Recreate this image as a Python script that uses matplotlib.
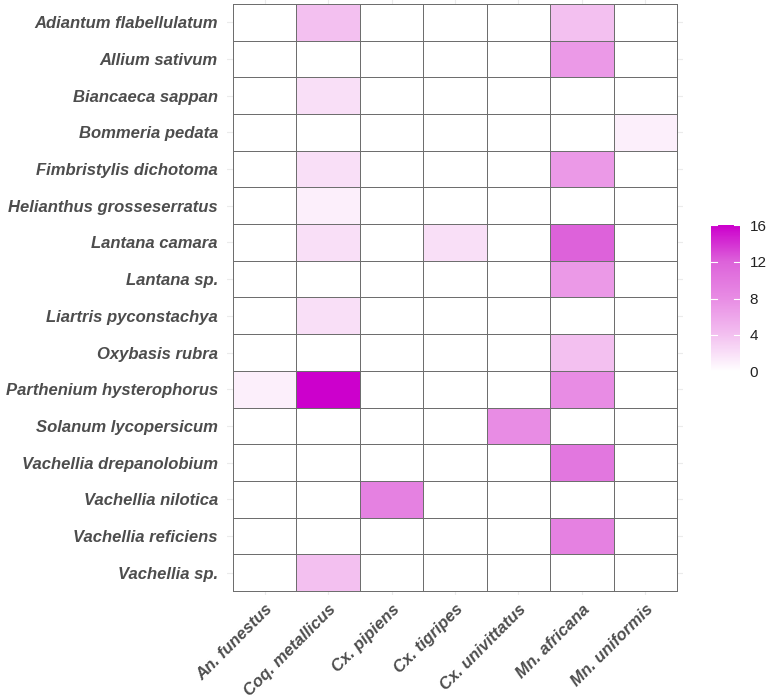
import numpy as np
import matplotlib
matplotlib.use("Agg")
import matplotlib.pyplot as plt
from matplotlib.colors import LinearSegmentedColormap

plants = ["Adiantum flabellulatum", "Allium sativum", "Biancaeca sappan", "Bommeria pedata",
          "Fimbristylis dichotoma", "Helianthus grosseserratus", "Lantana camara", "Lantana sp.",
          "Liartris pyconstachya", "Oxybasis rubra", "Parthenium hysterophorus",
          "Solanum lycopersicum", "Vachellia drepanolobium", "Vachellia nilotica",
          "Vachellia reficiens", "Vachellia sp."]
mosquitoes = ["An. funestus", "Coq. metallicus", "Cx. pipiens", "Cx. tigripes",
              "Cx. univittatus", "Mn. africana", "Mn. uniformis"]

# values per plant, columns in mosquito order
adiantum      = [0, 4, 0, 0, 0, 4, 0]
allium        = [0, 0, 0, 0, 0, 7, 0]
biancaeca     = [0, 2, 0, 0, 0, 0, 0]
bommeria      = [0, 0, 0, 0, 0, 0, 1]
fimbristylis  = [0, 2, 0, 0, 0, 7, 0]
helianthus    = [0, 1, 0, 0, 0, 0, 0]
lantana_cam   = [0, 2, 0, 2, 0, 12, 0]
lantana_sp    = [0, 0, 0, 0, 0, 7, 0]
liartris      = [0, 2, 0, 0, 0, 0, 0]
oxybasis      = [0, 0, 0, 0, 0, 4, 0]
parthenium    = [1, 16, 0, 0, 0, 8, 0]
solanum       = [0, 0, 0, 0, 8, 0, 0]
v_drepano     = [0, 0, 0, 0, 0, 10, 0]
v_nilotica    = [0, 0, 9, 0, 0, 0, 0]
v_reficiens   = [0, 0, 0, 0, 0, 9, 0]
v_sp          = [0, 4, 0, 0, 0, 0, 0]

colorbar_ticks = [0, 4, 8, 12, 16]

values = np.array([adiantum, allium, biancaeca, bommeria, fimbristylis, helianthus,
                   lantana_cam, lantana_sp, liartris, oxybasis, parthenium, solanum,
                   v_drepano, v_nilotica, v_reficiens, v_sp], dtype=float)

plt.rcParams['font.family'] = ['Liberation Sans', 'DejaVu Sans']

cmap = LinearSegmentedColormap.from_list("wm", [(0, "#FFFFFF"), (0.25, "#F3C0F0"),
                                                (0.5, "#E88CE4"), (0.75, "#DD63DA"), (1.0, "#CC00CC")])

fig = plt.figure(figsize=(7.67, 7.00), dpi=100)
W, H = 767, 700
nr, nc = values.shape
cw = (677 - 233) / nc
rh = (591 - 4) / nr
ex = 0.1
ax_left = 233 - ex * cw
ax_top = 4 - ex * rh
ax_w = (nc + 2 * ex) * cw
ax_h = (nr + 2 * ex) * rh
ax = fig.add_axes([ax_left / W, 1 - (ax_top + ax_h) / H, ax_w / W, ax_h / H])

X, Y = np.meshgrid(np.arange(nc + 1) - 0.5, np.arange(nr + 1) - 0.5)
mesh = ax.pcolormesh(X, Y, values, cmap=cmap, vmin=0, vmax=16,
                     edgecolors="#6E6E6E", linewidth=0.6, zorder=2)
ax.set_xlim(-0.5 - ex, nc - 0.5 + ex)
ax.set_ylim(nr - 0.5 + ex, -0.5 - ex)
for i in range(nc):
    ax.axvline(i, color="#EBEBEB", lw=0.8, zorder=0)
for j in range(nr):
    ax.axhline(j, color="#EBEBEB", lw=0.8, zorder=0)

fs = 12.0
ax.set_xticks(range(nc))
ax.set_xticklabels(mosquitoes, rotation=45, ha="right", va="top", rotation_mode="anchor",
                   fontsize=fs, fontweight="bold", fontstyle="italic", color="#4D4D4D")
ax.set_yticks(range(nr))
ax.set_yticklabels(plants, fontsize=fs, fontweight="bold", fontstyle="italic", color="#4D4D4D")
ax.tick_params(axis="y", length=0, pad=6.3)
ax.tick_params(axis="x", length=0, pad=5)
for s in ax.spines.values():
    s.set_visible(False)

cax = fig.add_axes([711 / W, 1 - 371.5 / H, 29 / W, (371.5 - 225.5) / H])
cb = fig.colorbar(mesh, cax=cax, ticks=colorbar_ticks)
cb.outline.set_visible(False)
cb.ax.tick_params(length=0, labelsize=11, pad=7, labelcolor="#222222")
for t in colorbar_ticks:
    cax.plot([0, 0.2], [t, t], color="white", lw=0.8, transform=cax.get_yaxis_transform())
    cax.plot([0.8, 1.0], [t, t], color="white", lw=0.8, transform=cax.get_yaxis_transform())

fig.savefig("out.png", dpi=100, facecolor="white")
